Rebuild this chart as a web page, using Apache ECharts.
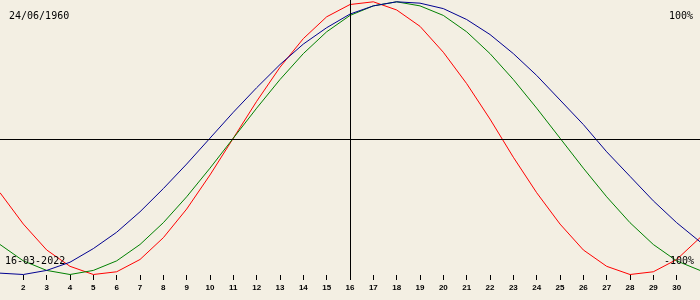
<!DOCTYPE html>
<html>
<head>
<meta charset="utf-8">
<script src="https://cdn.jsdelivr.net/npm/echarts@6/dist/echarts.min.js"></script>
<style>
html,body{margin:0;padding:0;background:#f3efe3;}
#c{width:700px;height:300px;}
</style>
</head>
<body>
<div id="c"></div>
<script>
// Days of the month (March 2022)
var days = [];
for (var i = 1; i <= 31; i++) days.push(i);
var tickLabels = [2,3,4,5,6,7,8,9,10,11,12,13,14,15,16,17,18,19,20,21,22,23,24,25,26,27,28,29,30];

// Values (-1 = -100%, 1 = 100%)
var physical = [-0.40,-0.63,-0.82,-0.94,-1.00,-0.98,-0.89,-0.73,-0.52,-0.27,0.00,0.27,0.52,0.73,0.89,0.98,1.00,0.94,0.82,0.63,0.40,0.14,-0.14,-0.40,-0.63,-0.82,-0.94,-1.00,-0.98,-0.89,-0.73];
var emotional = [-0.78,-0.90,-0.97,-1.00,-0.97,-0.90,-0.78,-0.62,-0.43,-0.22,0.00,0.22,0.43,0.62,0.78,0.90,0.97,1.00,0.97,0.90,0.78,0.62,0.43,0.22,0.00,-0.22,-0.43,-0.62,-0.78,-0.90,-0.97];
var intellectual = [-0.99,-1.00,-0.97,-0.91,-0.81,-0.69,-0.54,-0.37,-0.19,0.00,0.19,0.37,0.54,0.69,0.81,0.91,0.97,1.00,0.99,0.95,0.87,0.76,0.62,0.46,0.28,0.10,-0.10,-0.28,-0.46,-0.62,-0.76];

var currentDay = 16;
var midlineValue = -0.0136;
var birthDate = '24/06/1960';
var todayDate = '16-03-2022';
var topLabel = '100%';
var bottomLabel = '-100%';

function pairs(arr){ return arr.map(function(v,i){ return [days[i], v]; }); }

var chart = echarts.init(document.getElementById('c'), null, {renderer:'canvas'});
var monoFont = 'DejaVu Sans Mono';
chart.setOption({
  backgroundColor: '#f3efe3',
  animation: false,
  grid: {left: 0, right: 0, top: 0, height: 280},
  xAxis: {
    type: 'value', min: 1, max: 31,
    splitLine: {show: false},
    axisLine: {show: false, onZero: false},
    axisTick: {show: true, inside: true, length: 5, lineStyle: {color: '#000', width: 1}, customValues: tickLabels},
    axisLabel: {show: true, customValues: tickLabels, margin: 4, color: '#000', fontSize: 8, fontWeight: 'bold', fontFamily: 'Liberation Sans'}
  },
  yAxis: {
    type: 'value', min: -1.0403, max: 1.0132, show: false,
    splitLine: {show: false}
  },
  series: [
    {type: 'line', data: pairs(physical), showSymbol: false, symbol: 'none', lineStyle: {color: '#ff0000', width: 1}, z: 3,
     markLine: {silent: true, symbol: 'none', label: {show: false}, lineStyle: {color: '#000', width: 1, type: 'solid'},
       data: [{xAxis: currentDay}, {yAxis: midlineValue}]}},
    {type: 'line', data: pairs(emotional), showSymbol: false, symbol: 'none', lineStyle: {color: '#008000', width: 1}, z: 3},
    {type: 'line', data: pairs(intellectual), showSymbol: false, symbol: 'none', lineStyle: {color: '#000090', width: 1}, z: 3}
  ],
  graphic: [
    {type: 'text', left: 9, top: 11, z: 10, style: {text: birthDate, font: '10px ' + monoFont, fill: '#000'}},
    {type: 'text', right: 7, top: 11, z: 10, style: {text: topLabel, font: '10px ' + monoFont, fill: '#000'}},
    {type: 'text', left: 5, top: 256, z: 10, style: {text: todayDate, font: '10px ' + monoFont, fill: '#000'}},
    {type: 'text', right: 6, top: 256, z: 10, style: {text: bottomLabel, font: '10px ' + monoFont, fill: '#000'}}
  ]
});
</script>
</body>
</html>
